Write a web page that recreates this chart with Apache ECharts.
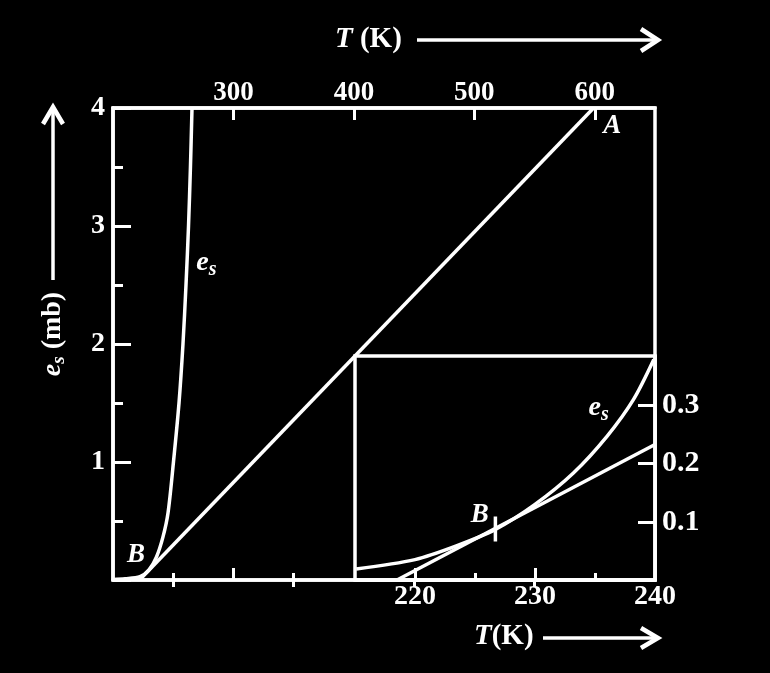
<!DOCTYPE html>
<html><head><meta charset="utf-8">
<script src="https://cdn.jsdelivr.net/npm/echarts@6/dist/echarts.min.js"></script>
<style>html,body{margin:0;background:#000}#c{width:770px;height:673px}</style>
</head><body><div id="c"></div>
<script>
// ---- data ----
const mainTopMajor = [300, 400, 500, 600];
const mainTopMinor = [250, 350, 450, 550];
const mainBottomMajor = [300];
const mainBottomMinor = [250, 350];
const insetXMajor = [220, 230];
const insetXMinor = [225, 235];
const insetXLabels = [220, 230, 240];
const insetYTicks = [0.1, 0.2, 0.3];

// saturation vapour pressure curve, main panel (T in K, e_s in mb)
const esMainT = [200, 210, 222.4, 229.9, 236.1, 241.5, 245.7, 250.2, 254.8, 258.1, 260.6, 262.7, 264.3, 265.6];
const esMainE = [0.004, 0.01, 0.028, 0.085, 0.195, 0.365, 0.57, 1.0, 1.5, 2.0, 2.5, 3.0, 3.5, 4.0];
// straight line B–A, main panel
const lineMainT = [222, 599];
const lineMainE = [0, 4];
// inset: e_s curve
const esInsetT = [215.1, 220, 223.5, 226.7, 230, 233.2, 236, 238.2, 239.9];
const esInsetE = [0.019, 0.035, 0.059, 0.087, 0.13, 0.184, 0.247, 0.31, 0.379];
// inset: tangent line
const lineInsetT = [218.5, 240];
const lineInsetE = [0, 0.233];
// inset: tick marking B
const bTickT = [226.7, 226.7];
const bTickE = [0.066, 0.109];

const zip = (a, b) => a.map((v, i) => [v, b[i]]);

const FONT = 'Liberation Serif';
const W = '#fff';
const lbl = (extra) => Object.assign({color: W, fontFamily: FONT, fontSize: 27, fontWeight: 'bold'}, extra);

const chart = echarts.init(document.getElementById('c'), null, {renderer: 'canvas'});

const axisBase = {type: 'value', splitLine: {show: false}, axisLine: {show: true, onZero: false, lineStyle: {color: W, width: 3.5}}};

const esRich = {
  e: {color: W, fontFamily: FONT, fontSize: 28, fontStyle: 'italic', fontWeight: 'bold', lineHeight: 34, verticalAlign: 'middle'},
  s: {color: W, fontFamily: FONT, fontSize: 20, fontStyle: 'italic', fontWeight: 'bold', lineHeight: 14, verticalAlign: 'bottom'}
};
const annLabel = {show: true, position: 'inside', color: W, fontFamily: FONT, fontSize: 27, fontStyle: 'italic', fontWeight: 'bold'};
const annItem = {color: 'rgba(0,0,0,0)', opacity: 1};

const option = {
  backgroundColor: '#000',
  animation: false,
  grid: [
    {left: 113, top: 108, width: 542, height: 472, show: true, borderColor: W, borderWidth: 3.5, backgroundColor: 'transparent'},
    {left: 355, top: 356, width: 300, height: 224, show: true, borderColor: W, borderWidth: 3.5, backgroundColor: '#000'}
  ],
  xAxis: [
    Object.assign({}, axisBase, {gridIndex: 0, position: 'top', min: 200, max: 650,
      axisTick: {show: true, inside: true, length: 12, customValues: mainTopMajor, lineStyle: {color: W, width: 3}},
      axisLabel: lbl({customValues: mainTopMajor, margin: 1})}),
    Object.assign({}, axisBase, {gridIndex: 0, position: 'top', min: 200, max: 650, axisLine: {show: false},
      axisTick: {show: true, inside: true, length: 7, customValues: mainTopMinor, lineStyle: {color: W, width: 3}},
      axisLabel: {show: false}}),
    Object.assign({}, axisBase, {gridIndex: 0, position: 'bottom', min: 200, max: 650,
      axisTick: {show: true, inside: true, length: 12, customValues: mainBottomMajor, lineStyle: {color: W, width: 3}},
      axisLabel: {show: false}}),
    Object.assign({}, axisBase, {gridIndex: 0, position: 'bottom', min: 200, max: 650, axisLine: {show: false},
      axisTick: {show: true, inside: true, length: 7, customValues: mainBottomMinor, lineStyle: {color: W, width: 3}},
      axisLabel: {show: false}}),
    Object.assign({}, axisBase, {gridIndex: 1, position: 'bottom', min: 215, max: 240,
      axisTick: {show: true, inside: true, length: 12, customValues: insetXMajor, lineStyle: {color: W, width: 3}},
      axisLabel: lbl({customValues: insetXLabels, margin: 3, fontSize: 28})}),
    Object.assign({}, axisBase, {gridIndex: 1, position: 'bottom', min: 215, max: 240, axisLine: {show: false},
      axisTick: {show: true, inside: true, length: 7, customValues: insetXMinor, lineStyle: {color: W, width: 3}},
      axisLabel: {show: false}})
  ],
  yAxis: [
    Object.assign({}, axisBase, {gridIndex: 0, position: 'left', min: 0, max: 4, interval: 1,
      axisTick: {show: true, inside: true, length: 18, lineStyle: {color: W, width: 3}},
      minorTick: {show: true, splitNumber: 2, length: 10, lineStyle: {color: W, width: 3}},
      minorSplitLine: {show: false},
      axisLabel: lbl({showMinLabel: false, margin: 8, fontSize: 28, padding: [4, 0, 0, 0]})}),
    Object.assign({}, axisBase, {gridIndex: 1, position: 'right', min: 0, max: 0.385,
      axisTick: {show: true, inside: true, length: 17, customValues: insetYTicks, lineStyle: {color: W, width: 3}},
      axisLabel: lbl({customValues: insetYTicks, margin: 7, fontSize: 30, formatter: v => v.toFixed(1)})})
  ],
  series: [
    {type: 'line', xAxisIndex: 0, yAxisIndex: 0, data: zip(esMainT, esMainE), showSymbol: false, smooth: 0.3, lineStyle: {color: W, width: 3.5}},
    {type: 'line', xAxisIndex: 0, yAxisIndex: 0, data: zip(lineMainT, lineMainE), showSymbol: false, lineStyle: {color: W, width: 3.5}},
    {type: 'line', xAxisIndex: 4, yAxisIndex: 1, data: zip(esInsetT, esInsetE), showSymbol: false, smooth: 0.3, lineStyle: {color: W, width: 3.5}},
    {type: 'line', xAxisIndex: 4, yAxisIndex: 1, data: zip(lineInsetT, lineInsetE), showSymbol: false, lineStyle: {color: W, width: 3.5}},
    {type: 'line', xAxisIndex: 4, yAxisIndex: 1, data: zip(bTickT, bTickE), showSymbol: false, lineStyle: {color: W, width: 3.5}},
    {type: 'scatter', xAxisIndex: 0, yAxisIndex: 0, symbolSize: 1, itemStyle: annItem, emphasis: {disabled: true},
      data: [
        {value: [614.6, 3.85], label: {formatter: 'A'}},
        {value: [219, 0.21], label: {formatter: 'B'}},
        {value: [277.5, 2.69], label: {formatter: '{e|e}{s|s}', rich: esRich}}
      ],
      label: annLabel},
    {type: 'scatter', xAxisIndex: 4, yAxisIndex: 1, symbolSize: 1, itemStyle: annItem, emphasis: {disabled: true},
      data: [
        {value: [225.4, 0.1125], label: {formatter: 'B'}},
        {value: [235.3, 0.296], label: {formatter: '{e|e}{s|s}', rich: esRich}}
      ],
      label: annLabel}
  ],
  graphic: [
    // top axis title + arrow
    {type: 'text', left: 335, top: 25, style: {text: '{t|T}{k| (K)}', rich: {
      t: {fill: W, fontFamily: FONT, fontSize: 29, fontStyle: 'italic', fontWeight: 'bold'},
      k: {fill: W, fontFamily: FONT, fontSize: 29, fontWeight: 'bold'}}}},
    {type: 'line', shape: {x1: 417, y1: 40, x2: 654, y2: 40}, style: {stroke: W, lineWidth: 3.5}},
    {type: 'polyline', shape: {points: [[641, 29], [658, 40], [641, 51]]}, style: {stroke: W, lineWidth: 4.5, fill: null}},
    // bottom axis title + arrow
    {type: 'text', left: 474, top: 622, style: {text: '{t|T}{k|(K)}', rich: {
      t: {fill: W, fontFamily: FONT, fontSize: 29, fontStyle: 'italic', fontWeight: 'bold'},
      k: {fill: W, fontFamily: FONT, fontSize: 29, fontWeight: 'bold'}}}},
    {type: 'line', shape: {x1: 543, y1: 638, x2: 654, y2: 638}, style: {stroke: W, lineWidth: 3.5}},
    {type: 'polyline', shape: {points: [[641, 628], [658, 638], [641, 648]]}, style: {stroke: W, lineWidth: 4.5, fill: null}},
    // left axis title + arrow
    {type: 'text', x: 53, y: 334, rotation: Math.PI / 2, style: {text: '{e|e}{s|s}{m| (mb)}', align: 'center', verticalAlign: 'middle', rich: {
      e: {fill: W, fontFamily: FONT, fontSize: 28, fontStyle: 'italic', fontWeight: 'bold', lineHeight: 32, verticalAlign: 'middle'},
      s: {fill: W, fontFamily: FONT, fontSize: 19, fontStyle: 'italic', fontWeight: 'bold', lineHeight: 12, verticalAlign: 'bottom'},
      m: {fill: W, fontFamily: FONT, fontSize: 28, fontWeight: 'bold', lineHeight: 32, verticalAlign: 'middle'}}}},
    {type: 'line', shape: {x1: 53, y1: 280, x2: 53, y2: 111}, style: {stroke: W, lineWidth: 3.5}},
    {type: 'polyline', shape: {points: [[43, 124], [53, 107], [63, 124]]}, style: {stroke: W, lineWidth: 4.5, fill: null}}
  ]
};
chart.setOption(option);
</script>
</body></html>
